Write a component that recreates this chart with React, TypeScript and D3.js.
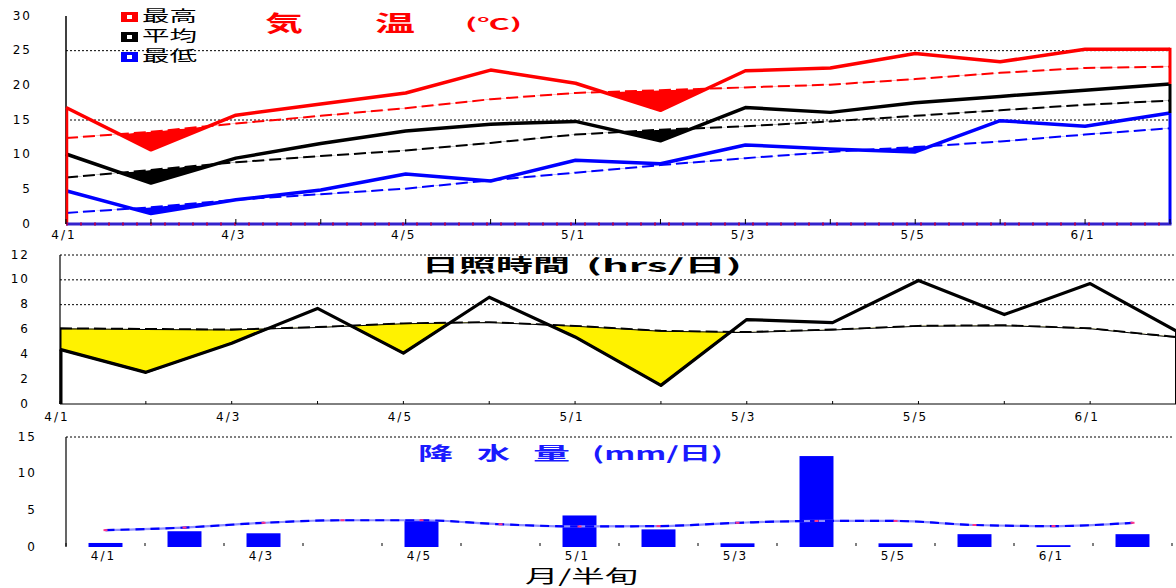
import React from "react";
import * as d3 from "d3";

// ---- data ----
const periods = ["4/1","4/2","4/3","4/4","4/5","4/6","5/1","5/2","5/3","5/4","5/5","5/6","6/1","6/2"];
const xTickLabels = ["4/1","4/3","4/5","5/1","5/3","5/5","6/1"];

const tempMax = [16.8,10.7,15.7,17.3,18.9,22.2,20.3,16.4,22.1,22.5,24.6,23.4,25.2,25.2];
const tempMaxNormal = [12.4,13.3,14.5,15.6,16.7,18.0,18.9,19.3,19.7,20.1,20.9,21.8,22.5,22.7];
const tempAvg = [10.1,5.9,9.5,11.6,13.4,14.4,14.8,12.0,16.8,16.1,17.5,18.4,19.3,20.2];
const tempAvgNormal = [6.7,7.8,8.9,9.8,10.6,11.7,12.9,13.6,14.1,14.8,15.6,16.4,17.2,17.8];
const tempMin = [4.8,1.5,3.5,4.9,7.2,6.2,9.2,8.7,11.4,10.8,10.4,14.9,14.1,16.0];
const tempMinNormal = [1.6,2.4,3.5,4.3,5.1,6.3,7.4,8.5,9.5,10.4,11.1,11.9,12.9,13.8];

const sunshine = [4.4,2.55,4.9,7.7,4.1,8.6,5.4,1.5,6.8,6.55,9.95,7.2,9.7,5.9];
const sunshineNormal = [6.1,6.05,6.0,6.2,6.5,6.6,6.3,5.9,5.8,6.0,6.3,6.35,6.1,5.4];

const precip = [0.55,2.15,1.87,0,3.6,0,4.3,2.4,0.5,12.4,0.5,1.75,0.25,1.75];
const precipNormal = [2.3,2.65,3.3,3.65,3.65,3.1,2.8,2.85,3.3,3.55,3.55,3.0,2.85,3.3];

const tempTicks = [0,5,10,15,20,25,30];
const tempGrid = [15,25];
const sunTicks = [0,2,4,6,8,10,12];
const sunGrid = [8,10,12];
const precipTicks = [0,5,10,15];
const precipGrid = [15];

const legendItems = [
  { label: "最高", color: "#ff0000" },
  { label: "平均", color: "#000000" },
  { label: "最低", color: "#0000ff" },
];

const tickFont = "'DejaVu Sans', sans-serif";
const cjkFont = "'Noto Sans CJK JP', sans-serif";

const idx = periods.map((_, i) => i);

export default function App() {
  // ---- scales ----
  const xT = d3.scaleLinear().domain([0, 13]).range([66, 1170]);
  const yT = d3.scaleLinear().domain([0, 30]).range([224, 16]);
  const xM = d3.scaleLinear().domain([0, 13]).range([60, 1176]);
  const yM = d3.scaleLinear().domain([0, 12]).range([404, 255]);
  const xB = d3.scaleBand<number>().domain(idx).range([66, 1172]).paddingInner(0.57).paddingOuter(0.285);
  const step = xB.step();
  const yB = d3.scaleLinear().domain([0, 15]).range([547, 437]);

  const lineT = (arr: number[]) => d3.line<number>().x((_, i) => xT(i)).y((d) => yT(d))(arr) || "";
  const lineM = (arr: number[]) => d3.line<number>().x((_, i) => xM(i)).y((d) => yM(d))(arr) || "";

  const belowT = (normal: number[]) =>
    d3.area<number>().x((_, i) => xT(i)).y0(yT(0)).y1((d) => yT(d))(normal) || "";
  const betweenT = (act: number[], normal: number[]) =>
    d3.area<number>().x((_, i) => xT(i)).y0((d) => yT(d)).y1((_, i) => yT(normal[i]))(act) || "";

  const tempSeries = [
    { act: tempMax, norm: tempMaxNormal, color: "#ff0000", id: "cMax" },
    { act: tempAvg, norm: tempAvgNormal, color: "#000000", id: "cAvg" },
    { act: tempMin, norm: tempMinNormal, color: "#0000ff", id: "cMin" },
  ];

  const sunBelow = d3.area<number>().x((_, i) => xM(i)).y0(yM(0)).y1((d) => yM(d))(sunshineNormal) || "";
  const sunBetween =
    d3.area<number>().x((_, i) => xM(i)).y0((d) => yM(d)).y1((_, i) => yM(sunshineNormal[i]))(sunshine) || "";

  const precipLine =
    d3.line<number>().x((_, i) => (xB(i) as number) + xB.bandwidth() / 2).y((d) => yB(d)).curve(d3.curveMonotoneX)(precipNormal) || "";

  const last = periods.length - 1;

  return (
    <svg width={1176} height={588} style={{ position: "absolute", left: 0, top: 0, background: "#fff" }}>
      <defs>
        {tempSeries.map((s) => (
          <clipPath id={s.id} key={s.id}>
            <path d={belowT(s.norm)} />
          </clipPath>
        ))}
        <clipPath id="cSun">
          <path d={sunBelow} />
        </clipPath>
      </defs>

      {/* ================= TOP: temperature ================= */}
      {tempGrid.map((g) => (
        <line key={g} x1={xT(0)} x2={xT(13)} y1={yT(g)} y2={yT(g)} stroke="#000" strokeWidth={1} strokeDasharray="2,2" />
      ))}
      <line x1={xT(0)} x2={xT(0)} y1={yT(30)} y2={yT(0)} stroke="#000" strokeWidth={1.5} />
      {tempTicks.map((t) => (
        <text key={t} x={32} y={yT(t)} textAnchor="end" dominantBaseline="middle" fontFamily={tickFont} fontSize={12} letterSpacing={2} fill="#000">
          {t}
        </text>
      ))}

      {/* fills below normal */}
      {tempSeries.map((s) => (
        <path key={"f" + s.id} d={betweenT(s.act, s.norm)} fill={s.color} clipPath={`url(#${s.id})`} />
      ))}
      {/* normals */}
      {tempSeries.map((s) => (
        <path key={"n" + s.id} d={lineT(s.norm)} fill="none" stroke={s.color} strokeWidth={2} strokeDasharray="12,5" />
      ))}
      {/* actuals */}
      {tempSeries.map((s) => (
        <path key={"a" + s.id} d={lineT(s.act)} fill="none" stroke={s.color} strokeWidth={3.5} strokeLinejoin="round" />
      ))}
      {/* edge closures */}
      <line x1={xT(0) + 1} x2={xT(0) + 1} y1={yT(tempMax[0])} y2={yT(0)} stroke="#ff0000" strokeWidth={2.5} />
      <line x1={xT(last)} x2={xT(last)} y1={yT(tempMax[last]) - 1.5} y2={yT(tempAvg[last])} stroke="#ff0000" strokeWidth={3} />
      <line x1={xT(last)} x2={xT(last)} y1={yT(tempAvg[last])} y2={yT(tempMin[last])} stroke="#000" strokeWidth={3} />
      <line x1={xT(last)} x2={xT(last)} y1={yT(tempMin[last])} y2={yT(0)} stroke="#0000ff" strokeWidth={3} />
      {/* bottom axis */}
      <line x1={xT(0)} x2={xT(13) + 1.5} y1={yT(0)} y2={yT(0)} stroke="#3322cc" strokeWidth={3} />
      <line x1={xT(0)} x2={xT(13)} y1={yT(0)} y2={yT(0)} stroke="#aa0055" strokeWidth={3} strokeDasharray="2,12" />
      {idx.map((i) => (
        <line key={i} x1={xT(i)} x2={xT(i)} y1={yT(0) - 5} y2={yT(0)} stroke="#000" strokeWidth={1} />
      ))}
      {xTickLabels.map((l, k) => (
        <text key={l} x={xT(k * 2) - 2} y={235} textAnchor="middle" dominantBaseline="middle" fontFamily={tickFont} fontSize={12} letterSpacing={2} fill="#000">
          {l}
        </text>
      ))}

      {/* legend */}
      {legendItems.map((it, k) => (
        <g key={it.label} transform={`translate(121, ${12 + k * 20})`}>
          <rect x={0} y={0} width={17} height={10} fill={it.color} />
          <rect x={6} y={3} width={5} height={4} fill="#fff" />
          <text x={21} y={5} dominantBaseline="middle" fontFamily={cjkFont} fontSize={15} textLength={55} lengthAdjust="spacingAndGlyphs" fill="#000">
            {it.label}
          </text>
        </g>
      ))}
      {/* title */}
      <text x={265} y={25} dominantBaseline="middle" fontFamily={cjkFont} fontWeight="bold" fontSize={22} textLength={38} lengthAdjust="spacingAndGlyphs" fill="#ff0000">気</text>
      <text x={375} y={25} dominantBaseline="middle" fontFamily={cjkFont} fontWeight="bold" fontSize={22} textLength={40} lengthAdjust="spacingAndGlyphs" fill="#ff0000">温</text>
      <text x={465} y={25} dominantBaseline="middle" fontFamily={cjkFont} fontWeight="bold" fontSize={15} textLength={57} lengthAdjust="spacingAndGlyphs" fill="#ff0000">(℃)</text>

      {/* ================= MIDDLE: sunshine ================= */}
      {sunGrid.map((g) => (
        <line key={g} x1={xM(0)} x2={xM(13)} y1={yM(g)} y2={yM(g)} stroke="#000" strokeWidth={1} strokeDasharray="2,2" />
      ))}
      <line x1={xM(0)} x2={xM(0)} y1={yM(12)} y2={yM(0)} stroke="#000" strokeWidth={1.2} />
      <line x1={xM(0)} x2={xM(13)} y1={yM(0)} y2={yM(0)} stroke="#000" strokeWidth={1} />
      {idx.map((i) => (
        <line key={i} x1={xM(i)} x2={xM(i)} y1={yM(0) - 3} y2={yM(0)} stroke="#000" strokeWidth={1} />
      ))}
      {sunTicks.map((t) => (
        <text key={t} x={30} y={yM(t)} textAnchor="end" dominantBaseline="middle" fontFamily={tickFont} fontSize={12} letterSpacing={2} fill="#000">
          {t}
        </text>
      ))}
      <path d={sunBetween} fill="#fff200" stroke="#000" strokeWidth={2} clipPath="url(#cSun)" />
      <path d={lineM(sunshineNormal)} fill="none" stroke="#000" strokeWidth={1.8} strokeDasharray="12,5" />
      <path d={lineM(sunshine)} fill="none" stroke="#000" strokeWidth={3.2} strokeLinejoin="round" />
      <line x1={xM(0) + 1} x2={xM(0) + 1} y1={yM(sunshineNormal[0])} y2={yM(0)} stroke="#000" strokeWidth={1} />
      <line x1={xM(0) + 1} x2={xM(0) + 1} y1={yM(sunshine[0])} y2={yM(0)} stroke="#000" strokeWidth={3} />
      <line x1={xM(last) - 0.5} x2={xM(last) - 0.5} y1={yM(sunshine[last])} y2={yM(0)} stroke="#000" strokeWidth={1} />
      {xTickLabels.map((l, k) => (
        <text key={l} x={xM(k * 2) - 3} y={417} textAnchor="middle" dominantBaseline="middle" fontFamily={tickFont} fontSize={12} letterSpacing={2} fill="#000">
          {l}
        </text>
      ))}
      <text x={422} y={267} dominantBaseline="middle" fontFamily={cjkFont} fontWeight="bold" fontSize={18} textLength={148} lengthAdjust="spacingAndGlyphs" fill="#000">日照時間</text>
      <text x={586} y={267} dominantBaseline="middle" fontFamily={cjkFont} fontWeight="bold" fontSize={18} textLength={156} lengthAdjust="spacingAndGlyphs" fill="#000">(hrs/日)</text>

      {/* ================= BOTTOM: precipitation ================= */}
      {precipGrid.map((g) => (
        <line key={g} x1={66} x2={1172} y1={yB(g)} y2={yB(g)} stroke="#000" strokeWidth={1} strokeDasharray="2,2" />
      ))}
      <line x1={66} x2={66} y1={yB(15)} y2={yB(0)} stroke="#000" strokeWidth={1.2} />
      {d3.range(periods.length + 1).map((k) => (
        <line key={k} x1={66 + k * step} x2={66 + k * step} y1={yB(0) - 4} y2={yB(0) - 1} stroke="#000" strokeWidth={1} />
      ))}
      {precipTicks.map((t) => (
        <text key={t} x={37} y={yB(t)} textAnchor="end" dominantBaseline="middle" fontFamily={tickFont} fontSize={12} letterSpacing={2} fill="#000">
          {t}
        </text>
      ))}
      {precip.map((v, i) => (
        <rect key={i} x={xB(i) as number} y={yB(v)} width={xB.bandwidth()} height={yB(0) - yB(v)} fill="#0000ff" />
      ))}
      <path d={precipLine} fill="none" stroke="#8f8fff" strokeWidth={2.2} />
      <path d={precipLine} fill="none" stroke="#0000ff" strokeWidth={2.2} strokeDasharray="9,6" />
      {precipNormal.map((v, i) => (
        <rect key={i} x={(xB(i) as number) + xB.bandwidth() / 2 - 2} y={yB(v) - 1} width={4} height={2} fill="#ff3388" />
      ))}
      {xTickLabels.map((l, k) => (
        <text key={l} x={(xB(k * 2) as number) + xB.bandwidth() / 2 - 2} y={556} textAnchor="middle" dominantBaseline="middle" fontFamily={tickFont} fontSize={12} letterSpacing={2} fill="#000">
          {l}
        </text>
      ))}
      <text x={418} y={455} dominantBaseline="middle" fontFamily={cjkFont} fontWeight="bold" fontSize={18} textLength={35} lengthAdjust="spacingAndGlyphs" fill="#1a1aff">降</text>
      <text x={477} y={455} dominantBaseline="middle" fontFamily={cjkFont} fontWeight="bold" fontSize={18} textLength={33} lengthAdjust="spacingAndGlyphs" fill="#1a1aff">水</text>
      <text x={533} y={455} dominantBaseline="middle" fontFamily={cjkFont} fontWeight="bold" fontSize={18} textLength={37} lengthAdjust="spacingAndGlyphs" fill="#1a1aff">量</text>
      <text x={592} y={455} dominantBaseline="middle" fontFamily={cjkFont} fontWeight="bold" fontSize={18} textLength={131} lengthAdjust="spacingAndGlyphs" fill="#1a1aff">(mm/日)</text>
      <text x={525} y={578} dominantBaseline="middle" fontFamily={cjkFont} fontSize={18} textLength={113} lengthAdjust="spacingAndGlyphs" fill="#000">月/半旬</text>
    </svg>
  );
}
